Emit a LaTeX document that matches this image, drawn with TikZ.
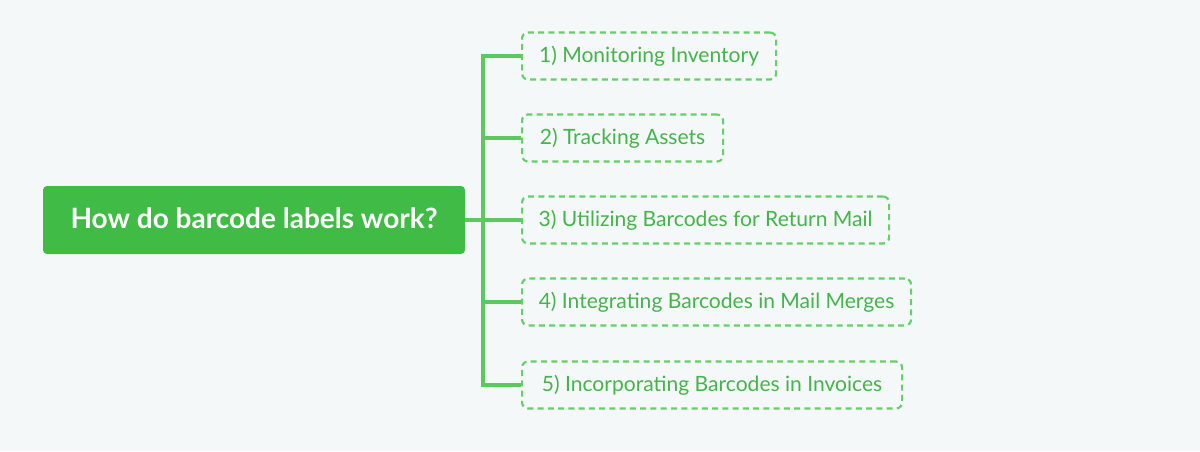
\documentclass[tikz,border=0pt]{standalone}
\usepackage{fontspec}
\setmainfont{Lato}
\definecolor{bg}{RGB}{244,248,249}
\definecolor{rootgreen}{RGB}{64,187,69}
\definecolor{linegreen}{RGB}{92,200,96}
\definecolor{textgreen}{RGB}{70,180,74}
\definecolor{dashgreen}{RGB}{100,208,104}
\begin{document}
\begin{tikzpicture}[x=0.75pt,y=-0.75pt,
  rootbox/.style={fill=rootgreen, rounded corners=3pt, text=white,
    font=\fontsize{21}{24}\selectfont\bfseries, minimum width={422*0.75pt},
    minimum height={68*0.75pt}, inner sep=0pt, text height=14pt, text depth=2pt},
  leaf/.style={draw=dashgreen, line width=1.6pt, dash pattern=on 4.5pt off 3.2pt,
    rounded corners=4.5pt, text=textgreen, font=\fontsize{15.8}{19}\selectfont,
    minimum height={47*0.75pt}, inner sep=0pt, anchor=west,
    text height=11pt, text depth=1.5pt},
  conn/.style={draw=linegreen, line width=2.6pt}]
\fill[bg] (0,0) rectangle (1200,451);
\useasboundingbox (0,0) rectangle (1200,451);
\node[rootbox] (root) at (254,220) {How do barcode labels work?};
\node[leaf, minimum width={254*0.75pt}] (l1) at (521,56) {1) Monitoring Inventory};
\node[leaf, minimum width={201*0.75pt}] (l2) at (521,138) {2) Tracking Assets};
\node[leaf, minimum width={367*0.75pt}] (l3) at (521,220) {3) Utilizing Barcodes for Return Mail};
\node[leaf, minimum width={389*0.75pt}] (l4) at (521,302) {4) Integrating Barcodes in Mail Merges};
\node[leaf, minimum width={380*0.75pt}] (l5) at (521,385) {5) Incorporating Barcodes in Invoices};
\coordinate (trunk) at (483,220);
\draw[conn] (root.east) -- (l3.west);
\draw[conn, line cap=rect] (trunk |- l1.west) -- (trunk |- l5.west);
\foreach \n in {l1,l2,l4,l5} \draw[conn] (trunk |- \n.west) -- (\n.west);
\end{tikzpicture}
\end{document}
